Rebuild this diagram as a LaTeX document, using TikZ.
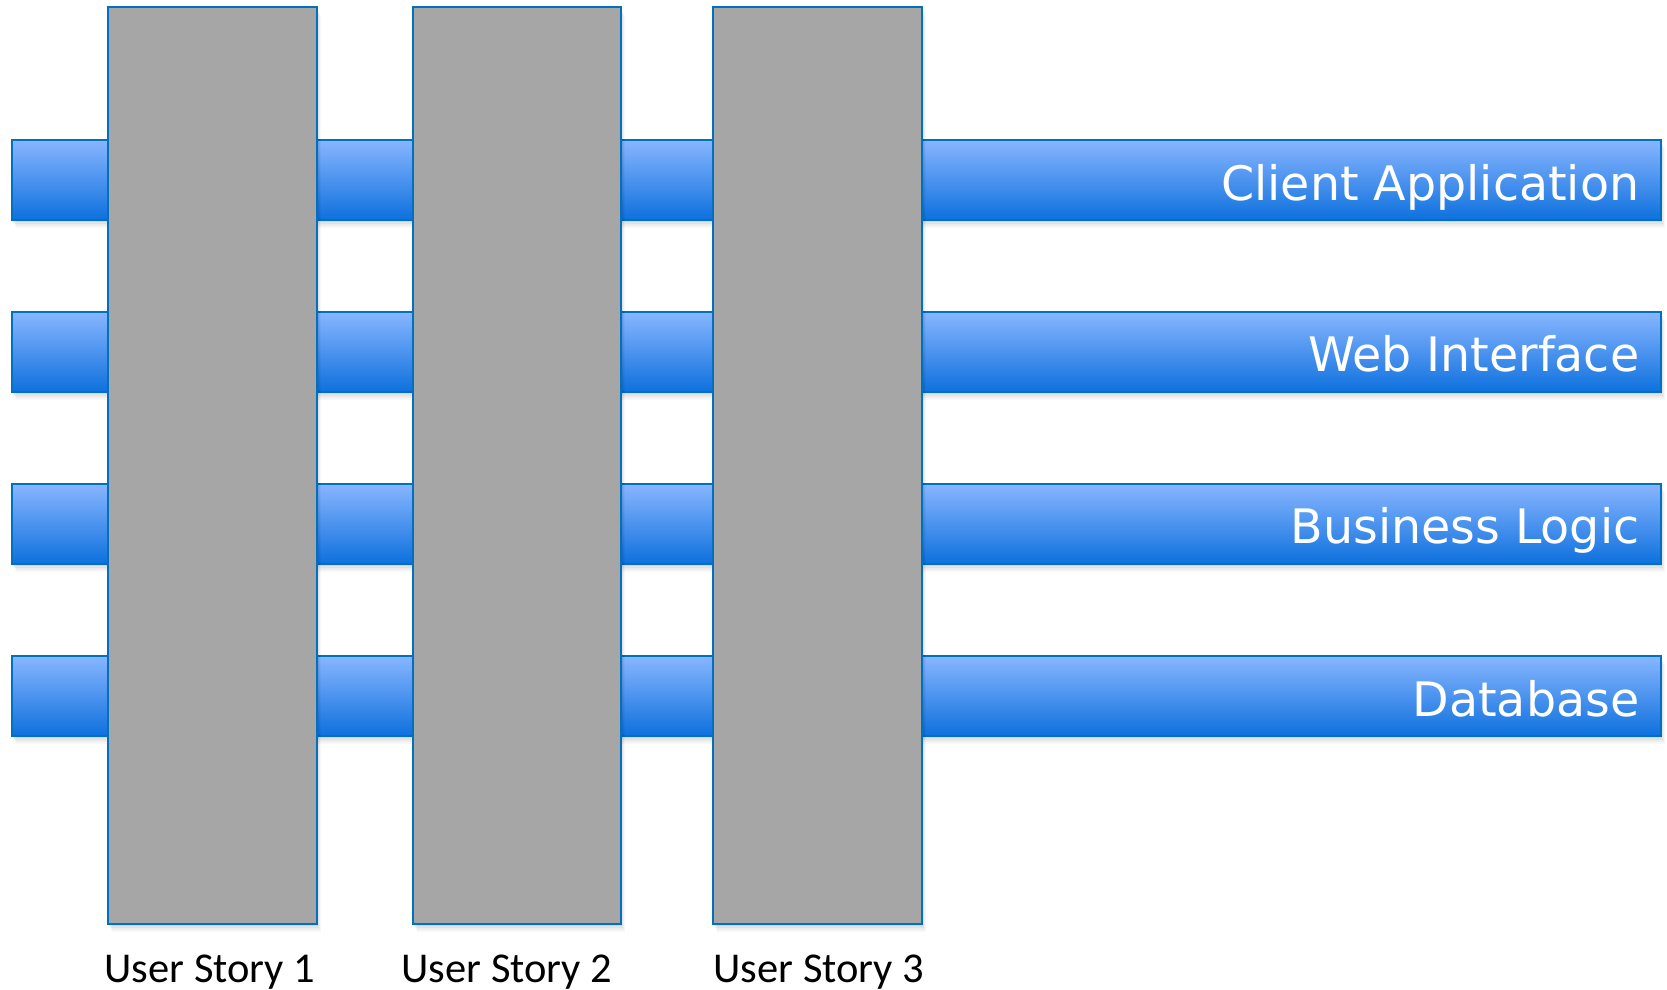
\documentclass[tikz,border=0pt]{standalone}
\usepackage{fontspec}
\setmainfont{Carlito}
\newfontfamily\barfont{DejaVu Sans}
\definecolor{edgeblue}{RGB}{0,112,192}
\definecolor{storygray}{RGB}{166,166,166}
\definecolor{bartop}{RGB}{136,182,255}
\definecolor{barmid}{RGB}{112,162,246}
\definecolor{barbot}{RGB}{14,112,222}
\tikzset{
  softshadow/.style={
    preaction={fill=black,opacity=0.05,transform canvas={xshift=1pt,yshift=-2pt}},
    preaction={fill=black,opacity=0.05,transform canvas={xshift=2pt,yshift=-4pt}},
    preaction={fill=black,opacity=0.04,transform canvas={xshift=3pt,yshift=-6pt}},
    preaction={fill=black,opacity=0.03,transform canvas={xshift=4pt,yshift=-8pt}}},
  layerbar/.style={rectangle, inner sep=0pt, minimum width=1649pt, minimum height=80pt,
    draw=edgeblue, line width=2pt, top color=bartop, middle color=barmid, bottom color=barbot, softshadow},
  storybox/.style={rectangle, inner sep=0pt, minimum width=208.5pt, minimum height=916.7pt,
    draw=edgeblue, line width=2pt, fill=storygray, softshadow},
  barlabel/.style={anchor=base east, inner sep=0pt, text=white, font=\barfont\fontsize{47.5}{56}\selectfont},
  storylabel/.style={anchor=base, inner sep=0pt, text=black, font=\fontsize{42.5}{50}\selectfont}
}
\begin{document}
\begin{tikzpicture}[x=1pt,y=-1pt]
\useasboundingbox (0,0) rectangle (1667,990);
% layer bars
\node[layerbar] (bar1) at (836.5,180) {};
\node[layerbar] (bar2) at (836.5,352) {};
\node[layerbar] (bar3) at (836.5,524) {};
\node[layerbar] (bar4) at (836.5,696) {};
\node[barlabel] (l1) at (1639.5,200) {Client Application};
\node[barlabel] (l2) at (1639.5,371) {Web Interface};
\node[barlabel] (l3) at (1639.5,543) {Business Logic};
\node[barlabel] (l4) at (1639.5,716) {Database};
% user story columns
\node[storybox] (s1) at (212.5,465.7) {};
\node[storybox] (s2) at (516.8,465.7) {};
\node[storybox] (s3) at (817.6,465.7) {};
\node[storylabel] (t1) at (210,982) {User Story 1};
\node[storylabel] (t2) at (507,982) {User Story 2};
\node[storylabel] (t3) at (819,982) {User Story 3};
\end{tikzpicture}
\end{document}
